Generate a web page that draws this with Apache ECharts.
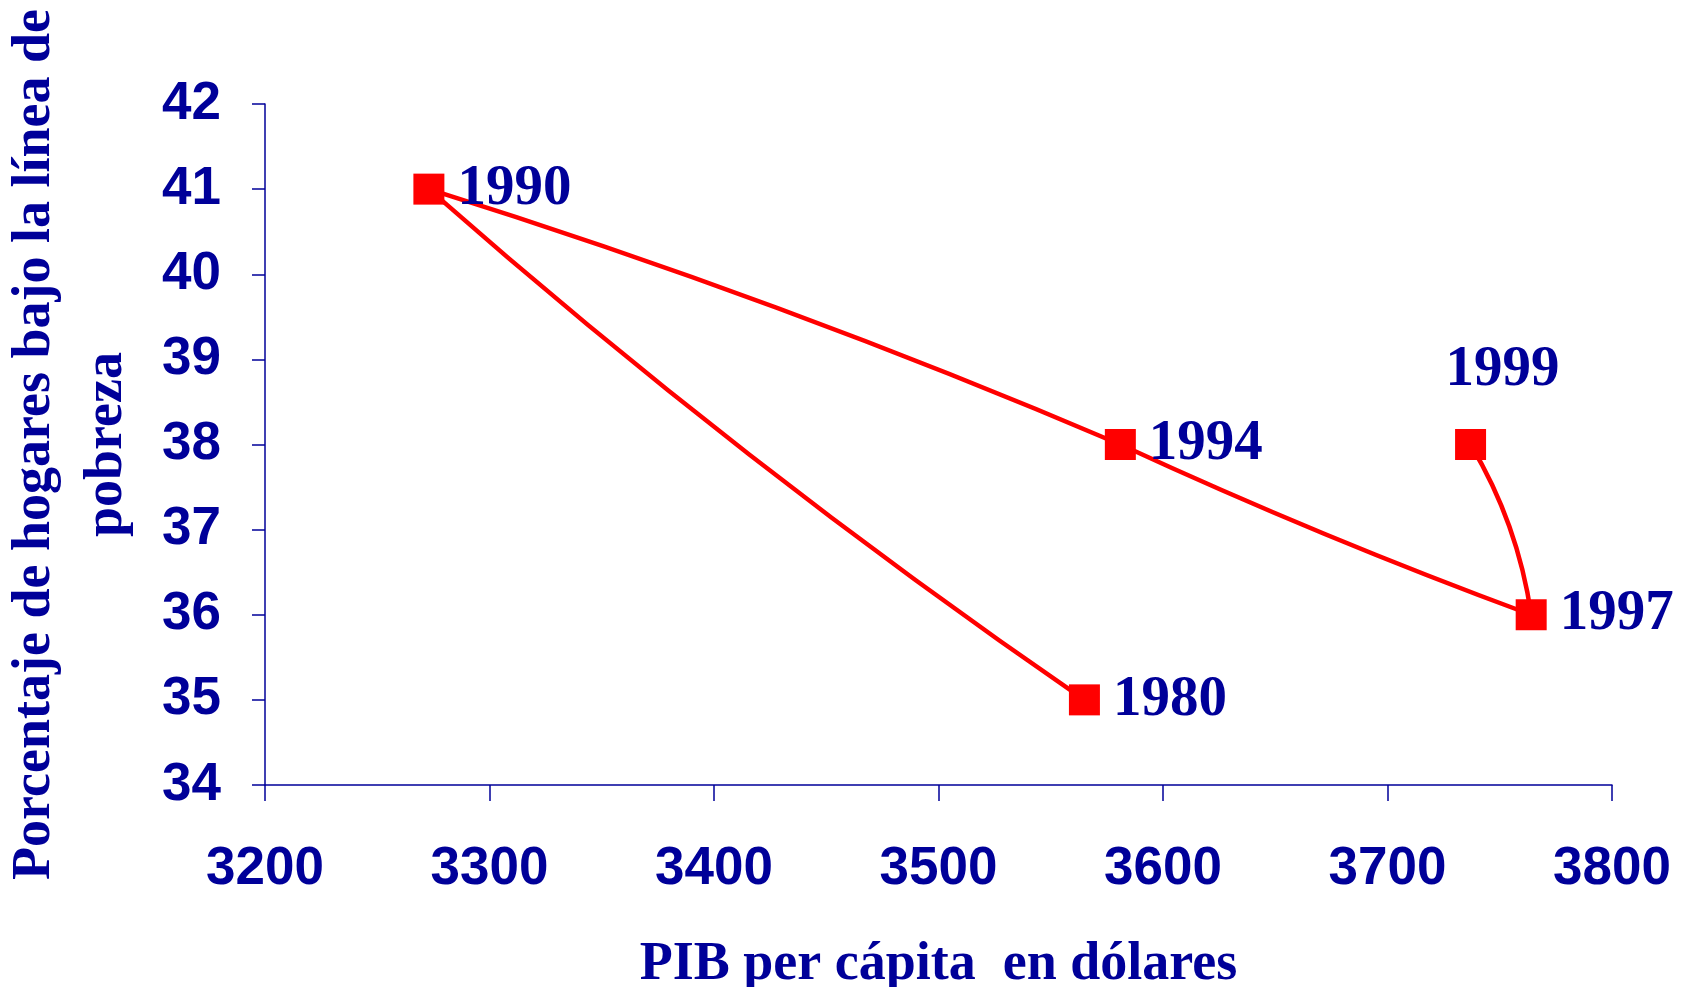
<!DOCTYPE html>
<html>
<head>
<meta charset="utf-8">
<script src="https://cdn.jsdelivr.net/npm/echarts@6/dist/echarts.min.js"></script>
<style>
  html, body { margin: 0; padding: 0; background: #fff; }
  #chart { width: 1692px; height: 987px; }
</style>
</head>
<body>
<div id="chart"></div>
<script>
// points in chronological order, the line follows this order
const years = ['1980', '1990', '1994', '1997', '1999'];
const pibPerCapita = [3565, 3273, 3581, 3764, 3737];
const pctPobreza = [35, 41, 38, 36, 38];
const xTicks = { min: 3200, max: 3800, step: 100 };
const yTicks = { min: 34, max: 42, step: 1 };
// bend of each joining segment (the original uses a smoothed line)
const segmentBend = [0.03, 0.025, -0.02, -0.1];

const navy = '#000099';
const red = '#ff0000';

const points = years.map((y, i) => {
  const p = { value: [pibPerCapita[i], pctPobreza[i]], name: y };
  if (y === '1999') {
    p.label = { position: 'top', offset: [32, -17] };
  }
  return p;
});

const segments = [];
for (let i = 1; i < years.length; i++) {
  segments.push({
    coords: [[pibPerCapita[i - 1], pctPobreza[i - 1]], [pibPerCapita[i], pctPobreza[i]]],
    lineStyle: { curveness: segmentBend[i - 1] }
  });
}

const chart = echarts.init(document.getElementById('chart'));
chart.setOption({
  backgroundColor: '#fff',
  animation: false,
  grid: { left: 265, right: 80, top: 104, bottom: 202, outerBoundsMode: 'none', containLabel: false },
  xAxis: {
    type: 'value',
    min: xTicks.min, max: xTicks.max, interval: xTicks.step,
    name: 'PIB per cápita  en dólares',
    nameLocation: 'middle',
    nameGap: 153,
    nameTextStyle: { color: navy, fontFamily: 'Liberation Serif', fontWeight: 'bold', fontSize: 54 },
    axisLine: { lineStyle: { color: navy, width: 1.5 } },
    axisTick: { inside: false, length: 16, lineStyle: { color: navy, width: 1.5 } },
    axisLabel: { color: navy, fontFamily: 'Liberation Sans', fontWeight: 'bold', fontSize: 53, margin: 58, formatter: (v) => String(v) },
    splitLine: { show: false }
  },
  yAxis: {
    type: 'value',
    min: yTicks.min, max: yTicks.max, interval: yTicks.step,
    name: 'Porcentaje de hogares bajo la línea de\npobreza',
    nameLocation: 'middle',
    nameGap: 122,
    nameTextStyle: { color: navy, fontFamily: 'Liberation Serif', fontWeight: 'bold', fontSize: 54, lineHeight: 72 },
    axisLine: { show: true, lineStyle: { color: navy, width: 1.5 } },
    axisTick: { show: true, length: 13, lineStyle: { color: navy, width: 1.5 } },
    axisLabel: { color: navy, fontFamily: 'Liberation Sans', fontWeight: 'bold', fontSize: 53, margin: 44 },
    splitLine: { show: false }
  },
  series: [
    {
      type: 'lines',
      coordinateSystem: 'cartesian2d',
      data: segments,
      symbol: 'none',
      lineStyle: { color: red, width: 4.5, opacity: 1 },
      silent: true,
      z: 1
    },
    {
      type: 'scatter',
      data: points,
      symbol: 'rect',
      symbolSize: 31,
      itemStyle: { color: red, opacity: 1 },
      z: 2,
      label: {
        show: true,
        position: 'right',
        distance: 13,
        formatter: (p) => p.name,
        color: navy,
        fontFamily: 'Liberation Serif',
        fontWeight: 'bold',
        fontSize: 57
      }
    }
  ]
});
</script>
</body>
</html>
